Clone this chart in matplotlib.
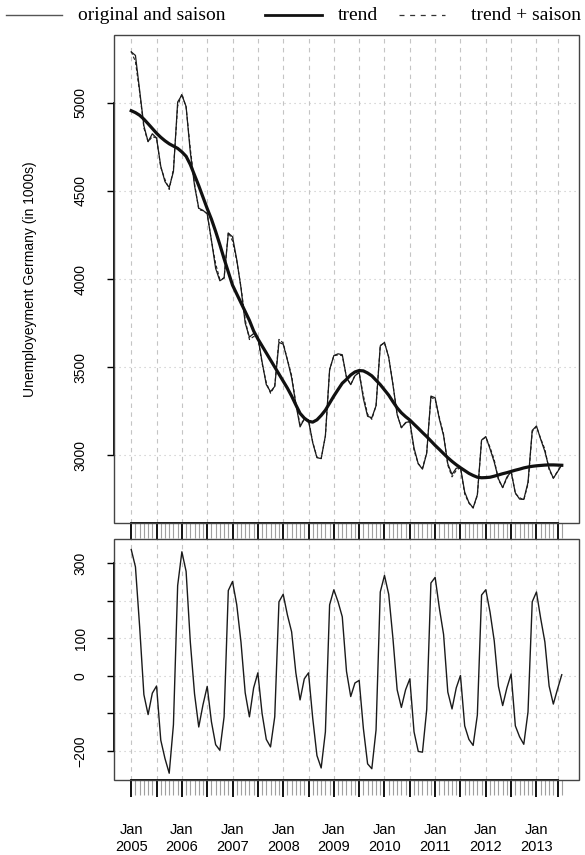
import matplotlib.pyplot as plt
from matplotlib.patches import Rectangle
from matplotlib.lines import Line2D

plt.rcParams['font.family'] = ['Liberation Sans', 'DejaVu Sans']

# monthly values, Jan 2005 .. Jul 2013 (in 1000s)
original = [5290, 5270, 5070, 4870, 4780, 4825, 4801, 4640, 4553, 4520, 4610, 5005,
            5045, 4980, 4720, 4530, 4402, 4390, 4370, 4220, 4060, 3990, 4005, 4260,
            4240, 4110, 3950, 3750, 3670, 3690, 3670, 3530, 3400, 3360, 3390, 3640,
            3630, 3540, 3440, 3290, 3160, 3205, 3195, 3070, 2985, 2980, 3110, 3485,
            3565, 3575, 3570, 3440, 3400, 3450, 3470, 3320, 3220, 3212, 3280, 3620,
            3640, 3555, 3400, 3230, 3155, 3185, 3190, 3040, 2950, 2920, 3010, 3335,
            3325, 3205, 3110, 2950, 2890, 2925, 2930, 2790, 2730, 2700, 2775, 3085,
            3105, 3035, 2960, 2865, 2815, 2875, 2905, 2785, 2750, 2748, 2845, 3140,
            3165, 3090, 3020, 2925, 2868, 2905, 2945]

trend = [4956, 4945, 4930, 4908, 4882, 4855, 4828, 4805, 4785, 4768, 4755, 4742,
         4722, 4697, 4650, 4590, 4530, 4465, 4400, 4340, 4270, 4195, 4115, 4040,
         3965, 3915, 3865, 3815, 3765, 3705, 3660, 3620, 3580, 3540, 3500, 3460,
         3420, 3380, 3335, 3285, 3237, 3210, 3192, 3187, 3200, 3225, 3255, 3295,
         3335, 3372, 3408, 3430, 3455, 3472, 3480, 3478, 3466, 3450, 3425, 3400,
         3370, 3340, 3303, 3268, 3240, 3218, 3199, 3175, 3152, 3128, 3105, 3080,
         3055, 3032, 3008, 2985, 2964, 2945, 2928, 2912, 2896, 2884, 2874, 2871,
         2872, 2874, 2880, 2887, 2894, 2900, 2907, 2914, 2920, 2927, 2932, 2936,
         2939, 2941, 2943, 2944, 2944, 2943, 2942]

saison = [336, 290, 130, -50, -103, -46, -27, -171, -220, -259, -130, 240,
          330, 278, 90, -48, -136, -77, -28, -122, -183, -198, -109, 227,
          251, 189, 90, -45, -109, -32, 8, -100, -169, -189, -109, 197,
          217, 162, 117, 8, -64, -8, 8, -113, -212, -245, -149, 189,
          229, 197, 157, 12, -55, -19, -12, -140, -234, -247, -144, 223,
          267, 217, 100, -37, -84, -37, -8, -149, -201, -203, -90, 247,
          262, 180, 110, -43, -88, -32, 1, -133, -169, -185, -104, 215,
          229, 170, 93, -28, -79, -32, 5, -133, -162, -182, -96, 197,
          223, 153, 90, -27, -75, -35, 3]

years = [2005, 2006, 2007, 2008, 2009, 2010, 2011, 2012, 2013]
top_ticks = [3000, 3500, 4000, 4500, 5000]
low_ticks = [-200, -100, 0, 100, 200, 300]
low_labels = ['\u2212200', '', '0', '100', '', '300']

months = list(range(len(original)))
trend_saison = [t + s for t, s in zip(trend, saison)]

major_pos = list(range(0, 97, 6)) + [101]
major_lab = ['Jan\n%d' % years[p // 12] if p % 12 == 0 else '' for p in major_pos]

fig = plt.figure(figsize=(5.85, 8.55), dpi=100)
ax1 = fig.add_axes([0.19487, 0.38830, 0.79487, 0.57076])
ax2 = fig.add_axes([0.19487, 0.08772, 0.79487, 0.28187])

grid_c = '#c4c4c4'


def style(ax, yticks, ylabels, yr):
    for y in yticks:
        ax.axhline(y, color=grid_c, ls=(0, (1, 3.5)), lw=0.8, zorder=0)
    for x in major_pos:
        ax.axvline(x, color=grid_c, ls=(0, (4, 4)), lw=0.8, zorder=0)
    ax.set_xlim(-4.08, 106.08)
    ax.set_ylim(*yr)
    for s in ax.spines.values():
        s.set_visible(False)
    ax.add_patch(Rectangle((0, 0), 1, 1, transform=ax.transAxes, fill=False,
                           ec='#444444', lw=1.0, clip_on=False, zorder=5))
    ax.spines['left'].set_visible(True)
    ax.spines['left'].set_bounds(yticks[0], yticks[-1])
    ax.spines['left'].set_linewidth(1.3)
    ax.spines['bottom'].set_visible(True)
    ax.spines['bottom'].set_bounds(0, 101)
    ax.spines['bottom'].set_linewidth(1.3)
    ax.set_yticks(yticks)
    ax.set_yticklabels(ylabels, rotation=90, va='center', fontsize=10)
    ax.tick_params(axis='y', length=5, width=1.0, pad=14)
    ax.set_xticks(major_pos)
    ax.set_xticks(months, minor=True)
    ax.tick_params(axis='x', which='major', length=12, width=1.3, color='black')
    ax.tick_params(axis='x', which='minor', length=11, width=0.8, color='#a0a0a0')


style(ax1, top_ticks, [str(t) for t in top_ticks], (2614, 5386))
style(ax2, low_ticks, low_labels, (-277, 364))

ax1.plot(months, original, color='#1a1a1a', lw=0.9, zorder=3)
ax1.plot(months, trend_saison, color='#1a1a1a', lw=0.8, ls=(0, (3, 2)), zorder=3)
ax1.plot(months, trend, color='#111111', lw=2.3, zorder=4)
ax1.set_xticklabels([''] * len(major_pos))

ax2.plot(months, saison, color='#1a1a1a', lw=1.0, zorder=3)
ax2.set_xticklabels(major_lab, fontsize=10.5, linespacing=1.25)
ax2.tick_params(axis='x', which='major', pad=19)

fig.text(30 / 585, 1 - 279 / 855, 'Unemployeyment Germany (in 1000s)', rotation=90,
         ha='center', va='center', fontsize=10)

# legend on top
ly = 1 - 15 / 855
fig.add_artist(Line2D([6 / 585, 62 / 585], [ly, ly], color='#555555', lw=1.0))
fig.add_artist(Line2D([265 / 585, 322 / 585], [ly, ly], color='#111111', lw=2.0))
fig.add_artist(Line2D([399 / 585, 445 / 585], [ly, ly], color='#333333', lw=0.9,
                      ls=(0, (4, 4.5))))
for x, txt in [(78, 'original and saison'), (338, 'trend'), (471, 'trend + saison')]:
    fig.text(x / 585, ly, txt, ha='left', va='center', fontsize=14,
             family=['Liberation Serif', 'DejaVu Serif'])

fig.savefig('out.png', dpi=100)
